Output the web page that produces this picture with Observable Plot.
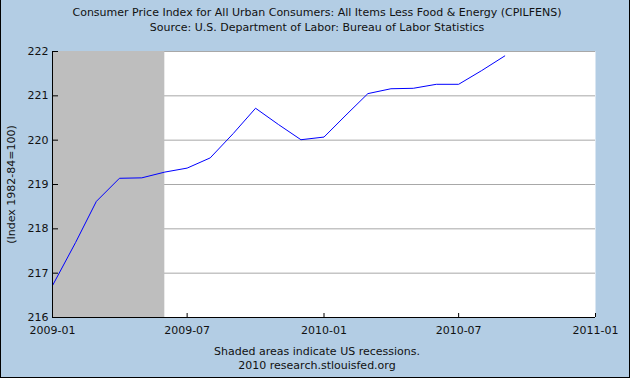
<!DOCTYPE html>
<html>
<head>
<meta charset="utf-8">
<script src="https://cdn.jsdelivr.net/npm/d3@7"></script>
<script src="https://cdn.jsdelivr.net/npm/@observablehq/plot@0.6"></script>
<style>
  html, body { margin: 0; padding: 0; background: #b3cde4; }
  #wrap { position: relative; width: 630px; height: 378px; background: #b3cde4; overflow: hidden; font-family: "DejaVu Sans", Verdana, sans-serif; }
  .t { position: absolute; left: 0; width: 630px; text-align: center; font-size: 11px; color: #111; white-space: nowrap; }
  #border { position: absolute; left: 0; top: 0; width: 630px; height: 378px; box-sizing: border-box; border: 1px solid #000; border-top: none; pointer-events: none; }
  svg { display: block; }
</style>
</head>
<body>
<div id="wrap">
  <div id="chart"></div>
  <div class="t" id="title1" style="top:6px;left:2px">Consumer Price Index for All Urban Consumers: All Items Less Food &amp; Energy (CPILFENS)</div>
  <div class="t" id="title2" style="top:21px;left:2px">Source: U.S. Department of Labor: Bureau of Labor Statistics</div>
  <div class="t" id="cap1" style="top:345px;left:2px">Shaded areas indicate US recessions.</div>
  <div class="t" id="cap2" style="top:359px;left:2px">2010 research.stlouisfed.org</div>
  <div id="border"></div>
</div>
<script>
// Data
const months = ["2009-01","2009-02","2009-03","2009-04","2009-05","2009-06","2009-07","2009-08","2009-09","2009-10","2009-11","2009-12",
                "2010-01","2010-02","2010-03","2010-04","2010-05","2010-06","2010-07","2010-08","2010-09"];
const cpi = [216.72, 217.69, 218.62, 219.14, 219.15, 219.28, 219.37, 219.60, 220.15, 220.72, 220.35, 220.01,
             220.07, 220.59, 221.05, 221.16, 221.17, 221.26, 221.26, 221.57, 221.90];
const recessionStart = ["2009-01"];
const recessionEnd = ["2009-06"];
const xTickLabels = ["2009-01","2009-07","2010-01","2010-07","2011-01"];
const yTickLabels = [216, 217, 218, 219, 220, 221, 222];
const yLabel = "(Index 1982-84=100)";

const parse = d3.utcParse("%Y-%m");
const data = months.map((m, i) => ({date: parse(m), value: cpi[i]}));
const recessions = recessionStart.map((s, i) => ({start: parse(s), end: parse(recessionEnd[i])}));
const xTicks = xTickLabels.map(parse);
const fmt = d3.utcFormat("%Y-%m");

const chart = Plot.plot({
  width: 630,
  height: 378,
  marginTop: 51,
  marginLeft: 52,
  marginRight: 35,
  marginBottom: 61,
  style: {background: "transparent", fontFamily: "DejaVu Sans, Verdana, sans-serif", fontSize: "11px", color: "#111"},
  x: {type: "utc", domain: [xTicks[0], xTicks[xTicks.length - 1]]},
  y: {domain: [yTickLabels[0], yTickLabels[yTickLabels.length - 1]]},
  marks: [
    Plot.frame({fill: "white", stroke: null}),
    Plot.gridY(yTickLabels.slice(1), {stroke: "#a8a8a8", strokeOpacity: 1, strokeWidth: 1}),
    Plot.rect(recessions, {x1: "start", x2: "end", fill: "#bebebe"}),
    Plot.line(data, {x: "date", y: "value", stroke: "#0000ff", strokeWidth: 1}),
    Plot.axisY(yTickLabels, {tickSize: -6, text: null, stroke: "#000", label: null}),
    Plot.axisY(yTickLabels, {tickSize: 0, tickPadding: 4, label: null, fill: "#111", fontSize: 11}),
    Plot.axisX(xTicks, {tickSize: -4, text: null, stroke: "#000", label: null}),
    Plot.axisX(xTicks, {tickSize: 0, tickPadding: 9, tickFormat: fmt, label: null, fill: "#111", fontSize: 11}),
    Plot.ruleX(xTicks.slice(0, 1), {stroke: "#000", strokeWidth: 1}),
    Plot.ruleY(yTickLabels.slice(0, 1), {stroke: "#000", strokeWidth: 1}),
    Plot.text([yLabel], {frameAnchor: "left", textAnchor: "middle", rotate: -90, dx: -41, fontSize: 11, fill: "#111", text: d => d})
  ]
});
document.getElementById("chart").appendChild(chart);
</script>
</body>
</html>
